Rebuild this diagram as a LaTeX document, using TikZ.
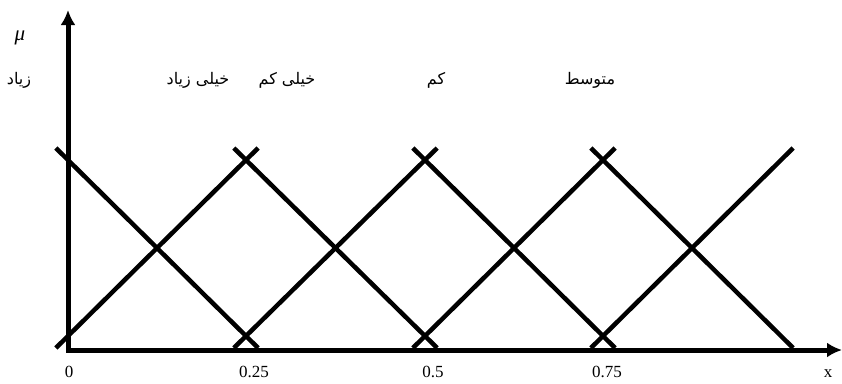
\documentclass[tikz,border=0pt]{standalone}
\usepackage{fontspec}
\setmainfont{Liberation Serif}
\newfontfamily\arabicfont[Script=Arabic]{DejaVu Sans}
\TeXXeTstate=1
\usetikzlibrary{arrows.meta}
\begin{document}
\begin{tikzpicture}[x=1pt,y=-1pt]
    \useasboundingbox (0,0) rectangle (842,383);
    \tikzstyle{axe}=[{Latex[length=15pt,width=15pt]}-{Latex[length=15pt,width=15pt]}, line width=5pt]
    \tikzstyle{trait}=[line width=4.5pt, shorten <=-17pt, shorten >=-17pt]
    \tikzstyle{chiffre}=[font=\fontsize{17}{20}\selectfont, inner sep=0pt]
    \tikzstyle{mot}=[font=\arabicfont\fontsize{16}{19}\selectfont, inner sep=0pt]

    % axes
    \coordinate (Y) at (68,10);
    \coordinate (O) at (68,350);
    \coordinate (X) at (842,350);
    \draw[axe] (Y) -- (O) -- (X);

    % sommets et pieds des triangles
    \coordinate (T0) at (68,160);   \coordinate (B0) at (68,336);
    \coordinate (T1) at (246,160);  \coordinate (B1) at (246,336);
    \coordinate (T2) at (425,160);  \coordinate (B2) at (425,336);
    \coordinate (T3) at (603,160);  \coordinate (B3) at (603,336);
    \coordinate (T4) at (781,160);  \coordinate (B4) at (781,336);
    \draw[trait] (T0) -- (B1);
    \draw[trait] (B0) -- (T1);
    \draw[trait] (T1) -- (B2);
    \draw[trait] (B1) -- (T2);
    \draw[trait] (T2) -- (B3);
    \draw[trait] (B2) -- (T3);
    \draw[trait] (T3) -- (B4);
    \draw[trait] (B3) -- (T4);

    % graduations
    \node[chiffre] (N01) at (69,372) {0};
    \node[chiffre] (N02) at (254,372) {0.25};
    \node[chiffre] (N03) at (433,372) {0.5};
    \node[chiffre] (N04) at (607,372) {0.75};
    \node[chiffre] (N05) at (828,374) {x};

    % libelles
    \node[chiffre, font=\fontsize{21}{24}\selectfont] (M01) at (20,38) {\itshape μ};
    \node[mot] (M02) at (19,80) {\arabicfont\beginR زیاد\endR};
    \node[mot] (M03) at (198,80) {\arabicfont\beginR خیلی زیاد\endR};
    \node[mot] (M04) at (287,80) {\arabicfont\beginR خیلی کم\endR};
    \node[mot] (M05) at (436,80) {\arabicfont\beginR کم\endR};
    \node[mot] (M06) at (590,80) {\arabicfont\beginR متوسط\endR};
\end{tikzpicture}
\end{document}
